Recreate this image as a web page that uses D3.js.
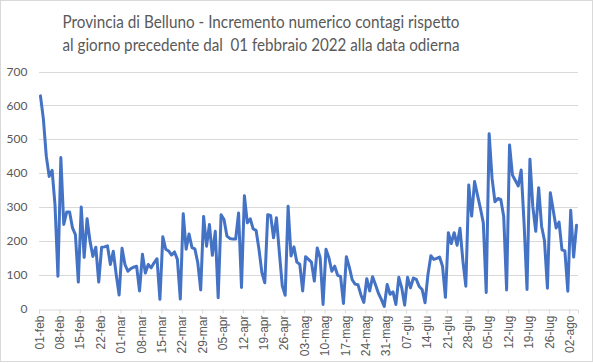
<!DOCTYPE html>
<meta charset="utf-8">
<head>
<style>
body { margin: 0; background: #fff; }
svg { display: block; font-family: Lato, "Noto Sans", sans-serif; }
.grid line { stroke: #d9d9d9; stroke-width: 1; }
.axis text { fill: #595959; font-size: 12px; }
.title { fill: #595959; font-size: 17px; white-space: pre; }
</style>
</head>
<body>
<div id="chart"></div>
<script src="https://d3js.org/d3.v7.min.js"></script>
<script>

// daily increase of cases, 01-feb-2022 .. 04-ago-2022
var startDate = "2022-02-01";
var values = [
  628, 560, 450, 390, 408, 305, 95,
  446, 248, 285, 285, 238, 218, 78,
  300, 151, 265, 199, 154, 181, 78,
  181, 182, 185, 130, 169, 100, 40,
  178, 130, 110, 118, 122, 125, 52,
  160, 105, 130, 120, 135, 147, 27,
  212, 175, 170, 158, 167, 145, 28,
  280, 175, 220, 180, 176, 135, 55,
  272, 184, 248, 157, 228, 32, 277,
  263, 214, 207, 205, 205, 282, 62,
  333, 253, 265, 235, 231, 175, 106,
  76, 277, 275, 209, 268, 165, 67,
  39, 302, 155, 182, 137, 131, 52,
  153, 145, 137, 81, 179, 150, 12,
  175, 150, 110, 125, 98, 95, 15,
  153, 122, 85, 72, 70, 40, 18,
  88, 52, 94, 70, 45, 27, 6,
  71, 42, 49, 12, 92, 61, 10,
  92, 61, 90, 86, 65, 56, 17,
  100, 156, 145, 148, 152, 125, 33,
  224, 192, 224, 187, 237, 140, 66,
  365, 273, 375, 335, 296, 253, 47,
  516, 385, 315, 325, 322, 272, 55,
  483, 394, 378, 362, 409, 250, 56,
  441, 300, 228, 357, 243, 200, 60,
  342, 290, 238, 255, 173, 170, 51,
  290, 152, 246
];

var tickLabels = ["01-feb", "08-feb", "15-feb", "22-feb", "01-mar", "08-mar", "15-mar",
  "22-mar", "29-mar", "05-apr", "12-apr", "19-apr", "26-apr", "03-mag", "10-mag",
  "17-mag", "24-mag", "31-mag", "07-giu", "14-giu", "21-giu", "28-giu", "05-lug",
  "12-lug", "19-lug", "26-lug", "02-ago"];
var tickStep = 7;

var yTicks = [0, 100, 200, 300, 400, 500, 600, 700];

var titleLines = ["Provincia di Belluno - Incremento numerico contagi rispetto",
                  "al giorno precedente dal  01 febbraio 2022 alla data odierna"];

var W = 593, H = 363;
var margin = {top: 71.5, right: 15, bottom: 54.5, left: 39};

var svg = d3.select("#chart").append("svg")
    .attr("width", W)
    .attr("height", H);

// outer border
svg.append("rect")
    .attr("x", 0.5).attr("y", 0.5)
    .attr("width", W - 1).attr("height", H - 2)
    .attr("fill", "#fff")
    .attr("stroke", "#d9d9d9");

// each day is one slot; ticks at slot edges, points at slot centres
var x = d3.scaleLinear()
    .domain([0, values.length])
    .range([margin.left, W - margin.right]);

var y = d3.scaleLinear()
    .domain([0, 700])
    .range([H - margin.bottom, margin.top]);

// title (the original font is narrower, so squeeze to its width)
svg.selectAll(".title")
  .data(titleLines)
  .enter().append("text")
    .attr("class", "title")
    .attr("x", 261)
    .attr("y", function(d, i) { return 28 + i * 23; })
    .attr("text-anchor", "middle")
    .attr("textLength", 397)
    .attr("lengthAdjust", "spacingAndGlyphs")
    .text(function(d) { return d; });

// gridlines
svg.append("g")
    .attr("class", "grid")
  .selectAll("line")
  .data(yTicks.slice(1))
  .enter().append("line")
    .attr("x1", x.range()[0])
    .attr("x2", x.range()[1])
    .attr("y1", function(d) { return Math.round(y(d)) + 0.5; })
    .attr("y2", function(d) { return Math.round(y(d)) + 0.5; });

// y axis labels
svg.append("g")
    .attr("class", "axis")
  .selectAll("text")
  .data(yTicks)
  .enter().append("text")
    .attr("x", 27.5)
    .attr("y", function(d) { return y(d); })
    .attr("dy", "0.35em")
    .attr("text-anchor", "end")
    .text(function(d) { return d; });

// x axis
var tickPos = tickLabels.map(function(d, i) { return i * tickStep; });

var xAxis = d3.axisBottom(x)
    .tickValues(tickPos)
    .tickSize(4)
    .tickFormat(function(d, i) { return tickLabels[i]; });

var gx = svg.append("g")
    .attr("class", "axis")
    .attr("transform", "translate(0," + (Math.round(y(0)) + 0.5) + ")")
    .call(xAxis);

gx.select(".domain").attr("stroke", "#d9d9d9");
gx.selectAll(".tick line").attr("stroke", "#d9d9d9");
gx.selectAll(".tick text")
    .attr("transform", "rotate(-90)")
    .attr("x", -6)
    .attr("y", 0)
    .attr("dy", "0.35em")
    .style("text-anchor", "end")
    .attr("font-family", null)
    .attr("font-size", null);

// line
var line = d3.line()
    .x(function(d, i) { return x(i + 0.5); })
    .y(function(d) { return y(d); });

svg.append("path")
    .datum(values)
    .attr("fill", "none")
    .attr("stroke", "#4472c4")
    .attr("stroke-width", 3)
    .attr("stroke-linejoin", "round")
    .attr("stroke-linecap", "round")
    .attr("d", line);

</script>
</body>
</html>
